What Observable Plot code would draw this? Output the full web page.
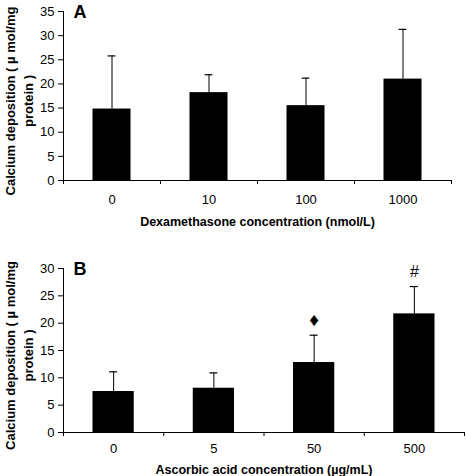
<!DOCTYPE html>
<html>
<head>
<meta charset="utf-8">
<script src="https://cdn.jsdelivr.net/npm/d3@7"></script>
<script src="https://cdn.jsdelivr.net/npm/@observablehq/plot@0.6"></script>
<style>
  body { margin: 0; background: white; }
  svg { display: block; }
</style>
</head>
<body>
<div id="chart"></div>
<script>
// Panel A: dexamethasone
const dexCategories = ["0", "10", "100", "1000"];
const dexMeans = [14.8, 18.2, 15.5, 21.0];
const dexErrors = [11.0, 3.7, 5.7, 10.3];
const dexMarkers = ["", "", "", ""];
const dexTicks = [0, 5, 10, 15, 20, 25, 30, 35];

// Panel B: ascorbic acid
const ascCategories = ["0", "5", "50", "500"];
const ascMeans = [7.5, 8.1, 12.8, 21.7];
const ascErrors = [3.6, 2.8, 5.0, 5.0];
const ascMarkers = ["", "", "♦", "#"];
const ascTicks = [0, 5, 10, 15, 20, 25, 30];

const yTitle = "Calcium deposition ( µ mol/mg\nprotein )";
const font = "'Liberation Sans', Arial, Helvetica, sans-serif";

function panel(o) {
  const data = o.cats.map((c, i) => ({i, cat: c, mean: o.means[i], err: o.errs[i], mark: o.marks[i]}));
  const n = o.cats.length;
  const centers = d3.range(n).map(i => i + 0.5);
  return Plot.plot({
    width: 466,
    height: o.height,
    marginLeft: 63,
    marginRight: o.mr,
    marginTop: o.mt,
    marginBottom: o.mb,
    x: {domain: [0, n], axis: null},
    y: {domain: [0, o.yMax], axis: null},
    style: {fontFamily: font, fontSize: "13px", background: "white", color: "black"},
    marks: [
      Plot.rectY(data, {x1: d => d.i, x2: d => d.i + 1, y1: 0, y2: "mean", fill: "black", insetLeft: 29.5, insetRight: 29.5}),
      Plot.ruleX(data, {x: d => d.i + 0.5, y1: "mean", y2: d => d.mean + d.err, stroke: "black", strokeWidth: 1}),
      Plot.ruleY(data, {y: d => d.mean + d.err, x1: d => d.i + 0.5 - 0.04, x2: d => d.i + 0.5 + 0.04, stroke: "black", strokeWidth: 1.2}),
      Plot.text(data.filter(d => d.mark), {x: d => d.i + 0.5, y: d => d.mean + d.err, text: "mark", dy: -15, lineAnchor: "middle",
        fontSize: d => d.mark === "♦" ? 19 : 16, fontFamily: d => d.mark === "#" ? "'Liberation Serif', serif" : "'DejaVu Sans', sans-serif"}),
      Plot.ruleX([0], {stroke: "black"}),
      Plot.ruleY([0], {stroke: "black"}),
      Plot.axisY({ticks: o.yTicks, tickSize: 5, tickPadding: 4, label: null}),
      Plot.axisX({ticks: d3.range(n + 1), tickSize: 4, tickFormat: () => "", label: null}),
      Plot.axisX({ticks: centers, tickSize: 0, tickPadding: o.xPad, tickFormat: d => o.cats[Math.floor(d)], label: null}),
      Plot.text([o.xLabel], {frameAnchor: "bottom", dy: o.xLabelDy, lineAnchor: "middle", fontWeight: "bold", fontSize: 12.5}),
      Plot.text([yTitle], {frameAnchor: "left", textAnchor: "middle", rotate: -90, dx: -45, dy: 5, lineAnchor: "middle", lineHeight: 1.4, fontWeight: "bold", fontSize: 13}),
      Plot.text([o.letter], {frameAnchor: "top-left", dx: 10, dy: -6, lineAnchor: "top", textAnchor: "start", fontWeight: "bold", fontSize: 18})
    ]
  });
}

const chart = document.getElementById("chart");
chart.appendChild(panel({
  cats: dexCategories, means: dexMeans, errs: dexErrors, marks: dexMarkers,
  yTicks: dexTicks, yMax: 35, letter: "A",
  xLabel: "Dexamethasone concentration (nmol/L)",
  height: 230, mt: 11, mb: 50, mr: 15, xPad: 14, xLabelDy: 41
}));
chart.appendChild(panel({
  cats: ascCategories, means: ascMeans, errs: ascErrors, marks: ascMarkers,
  yTicks: ascTicks, yMax: 30, letter: "B",
  xLabel: "Ascorbic acid concentration (µg/mL)",
  height: 246, mt: 38, mb: 44, mr: 2, xPad: 11.5, xLabelDy: 37
}));
</script>
</body>
</html>
